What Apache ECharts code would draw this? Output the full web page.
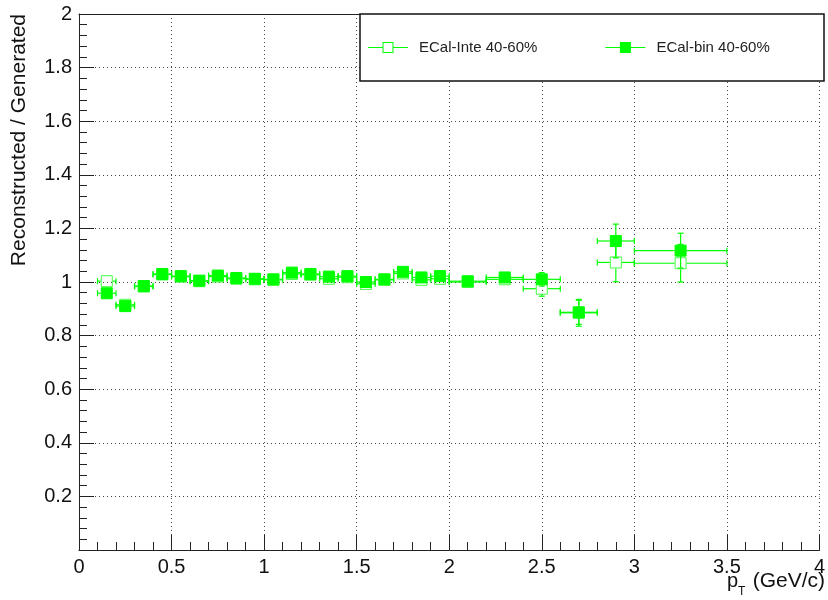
<!DOCTYPE html>
<html>
<head>
<meta charset="utf-8">
<script src="https://cdn.jsdelivr.net/npm/echarts@6/dist/echarts.min.js"></script>
<style>
html,body{margin:0;padding:0;background:#fff;}
#chart{width:828px;height:600px;}
</style>
</head>
<body>
<div id="chart"></div>
<script>
// pT bin centres and half widths (GeV/c)
const xCenters = [0.15,0.25,0.35,0.45,0.55,0.65,0.75,0.85,0.95,1.05,1.15,1.25,1.35,1.45,1.55,1.65,1.75,1.85,1.95,2.1,2.3,2.5,2.7,2.9,3.25];
const xHalfWidths = [0.05,0.05,0.05,0.05,0.05,0.05,0.05,0.05,0.05,0.05,0.05,0.05,0.05,0.05,0.05,0.05,0.05,0.05,0.05,0.1,0.1,0.1,0.1,0.1,0.25];
// ECal-Inte 40-60% (open squares)
const inteValues = [1.003,0.915,0.983,1.028,1.020,1.003,1.020,1.012,1.010,1.008,1.030,1.027,1.012,1.018,0.993,1.008,1.032,1.008,1.012,1.000,1.010,0.975,0.885,1.073,1.070];
const inteErrors = [0.015,0.012,0.010,0.010,0.010,0.010,0.010,0.010,0.010,0.010,0.010,0.010,0.010,0.010,0.012,0.012,0.012,0.012,0.012,0.012,0.020,0.028,0.050,0.072,0.070];
// ECal-bin 40-60% (filled squares)
const binValues = [0.958,0.910,0.985,1.030,1.022,1.005,1.024,1.015,1.012,1.010,1.035,1.030,1.020,1.022,1.000,1.010,1.038,1.017,1.022,1.003,1.017,1.010,0.887,1.153,1.117];
const binErrors = [0.012,0.012,0.010,0.010,0.010,0.010,0.010,0.010,0.010,0.010,0.010,0.010,0.010,0.010,0.012,0.012,0.012,0.012,0.012,0.012,0.020,0.025,0.045,0.063,0.065];
const seriesNames = ['ECal-Inte 40-60%','ECal-bin 40-60%'];
const xTitle = ['p','T','(GeV/c)'];
const yTitle = 'Reconstructed / Generated';

const GREEN = '#00ff00';
const FONT = 'Liberation Sans, Arial, Helvetica, sans-serif';

function makeRender(open){
  return function(params, api){
    const x = api.value(0), y = api.value(1), ex = api.value(2), ey = api.value(3);
    const c = api.coord([x, y]);
    const l = api.coord([x - ex, y])[0];
    const r = api.coord([x + ex, y])[0];
    const t = api.coord([x, y + ey])[1];
    const b = api.coord([x, y - ey])[1];
    const h = 6, cap = 3;
    const ls = {stroke: GREEN, lineWidth: 1.2};
    const ch = [];
    function line(x1,y1,x2,y2){ ch.push({type:'line', shape:{x1,y1,x2,y2}, style:ls}); }
    if (l < c[0]-h) { line(l, c[1], c[0]-h, c[1]); line(l, c[1]-cap, l, c[1]+cap); }
    if (r > c[0]+h) { line(c[0]+h, c[1], r, c[1]); line(r, c[1]-cap, r, c[1]+cap); }
    if (t < c[1]-h) { line(c[0], t, c[0], c[1]-h); line(c[0]-cap, t, c[0]+cap, t); }
    if (b > c[1]+h) { line(c[0], c[1]+h, c[0], b); line(c[0]-cap, b, c[0]+cap, b); }
    ch.push({type:'rect', shape:{x:c[0]-h+0.5, y:c[1]-h+0.5, width:2*h-1, height:2*h-1},
      style: open ? {fill:'none', stroke:'#44ff44', lineWidth:1} : {fill:GREEN, stroke:GREEN, lineWidth:1}});
    return {type:'group', children: ch};
  };
}

const inteData = xCenters.map((x,i)=>[x, inteValues[i], xHalfWidths[i], inteErrors[i]]);
const binData = xCenters.map((x,i)=>[x, binValues[i], xHalfWidths[i], binErrors[i]]);

const iconOpen = 'path://M0 5.4H14.5V6.6H0Z M25.5 5.4H40V6.6H25.5Z M14.5 0.5H25.5V11.5H14.5Z M15.5 1.5V10.5H24.5V1.5Z';
const iconFilled = 'path://M0 5.4H14.5V6.6H0Z M25.5 5.4H40V6.6H25.5Z M14.5 0.5H25.5V11.5H14.5Z';

const chart = echarts.init(document.getElementById('chart'), null, {renderer:'canvas'});
chart.setOption({
  animation: false,
  backgroundColor: '#fff',
  textStyle: {fontFamily: FONT},
  grid: {left: 79, right: 4, top: 14, bottom: 50, containLabel: false},
  xAxis: [{
    type: 'value', min: 0, max: 4, interval: 0.5,
    axisLine: {show: true, onZero: false, lineStyle: {color: '#222', width: 1}},
    axisTick: {show: true, inside: true, length: 15, lineStyle: {color: '#222'}},
    minorTick: {show: true, splitNumber: 5, length: 8, lineStyle: {color: '#222'}},
    axisLabel: {fontSize: 20, color: '#111', margin: 7, fontFamily: FONT,
      formatter: v => String(+v.toFixed(1))},
    splitLine: {show: true, lineStyle: {color: '#444', type: [1, 3], width: 1}}
  },{
    type: 'value', min: 0, max: 4, position: 'top',
    axisLine: {show: true, onZero: false, lineStyle: {color: '#222', width: 1}},
    axisTick: {show: false}, axisLabel: {show: false}, splitLine: {show: false}
  }],
  yAxis: {
    type: 'value', min: 0, max: 2, interval: 0.2,
    axisLine: {show: true, onZero: false, lineStyle: {color: '#222', width: 1}},
    axisTick: {show: true, inside: true, length: 15, lineStyle: {color: '#222'}},
    minorTick: {show: true, splitNumber: 5, length: 8, lineStyle: {color: '#222'}},
    axisLabel: {fontSize: 20, color: '#111', margin: 7, fontFamily: FONT,
      formatter: v => v === 0 ? '' : String(+v.toFixed(1))},
    splitLine: {show: true, lineStyle: {color: '#444', type: [1, 3], width: 1}}
  },
  legend: {
    show: true, z: 10, left: 368, top: 40, orient: 'horizontal',
    itemWidth: 40, itemHeight: 12, itemGap: 68, itemTextGap: 5, padding: 0,
    textStyle: {fontSize: 15, color: '#222', fontFamily: FONT, padding: [0, 0, 0, 6]},
    itemStyle: {borderWidth: 0},
    data: [{name: seriesNames[0], icon: iconOpen}, {name: seriesNames[1], icon: iconFilled}]
  },
  graphic: [
    {type: 'rect', z: 5, shape: {x: 360, y: 14, width: 464, height: 67},
      style: {fill: '#fff', stroke: '#111', lineWidth: 1.5}},
    {type: 'text', z: 5, x: 19, y: 14, rotation: Math.PI/2,
      style: {text: yTitle, fontSize: 21, fill: '#111', fontFamily: FONT, align: 'right', verticalAlign: 'middle'}},
    {type: 'text', z: 5, x: 727, y: 581,
      style: {text: xTitle[0], fontSize: 20, fill: '#111', fontFamily: FONT, align: 'left', verticalAlign: 'middle'}},
    {type: 'text', z: 5, x: 738, y: 592,
      style: {text: xTitle[1], fontSize: 12, fill: '#111', fontFamily: FONT, align: 'left', verticalAlign: 'middle'}},
    {type: 'text', z: 5, x: 825, y: 581,
      style: {text: xTitle[2], fontSize: 21, fill: '#111', fontFamily: FONT, align: 'right', verticalAlign: 'middle'}}
  ],
  series: [
    {name: seriesNames[0], type: 'custom', itemStyle: {color: GREEN}, z: 3,
      encode: {x: 0, y: 1}, renderItem: makeRender(true), data: inteData},
    {name: seriesNames[1], type: 'custom', itemStyle: {color: GREEN}, z: 4,
      encode: {x: 0, y: 1}, renderItem: makeRender(false), data: binData}
  ]
});
</script>
</body>
</html>
